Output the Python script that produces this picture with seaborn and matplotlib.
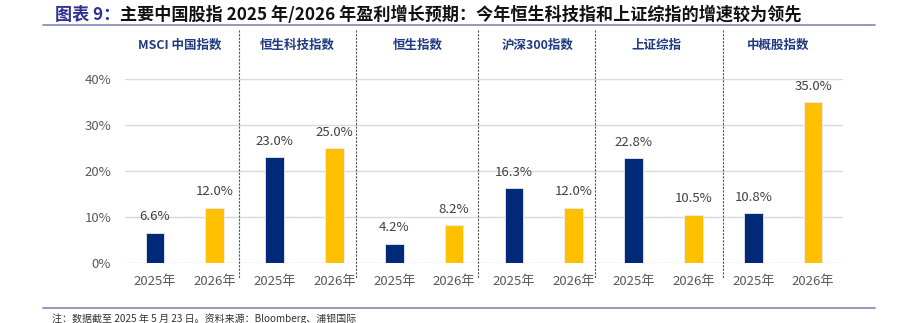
import matplotlib
matplotlib.use("Agg")
import matplotlib.pyplot as plt
from matplotlib.lines import Line2D
import seaborn as sns
import pandas as pd

# ---- data ----
groups = ["MSCI 中国指数", "恒生科技指数", "恒生指数", "沪深300指数", "上证综指", "中概股指数"]
years = ["2025年", "2026年"]
growth_2025 = [6.6, 23.0, 4.2, 16.3, 22.8, 10.8]
growth_2026 = [12.0, 25.0, 8.2, 12.0, 10.5, 35.0]
yticks = [0, 10, 20, 30, 40]
title_prefix = "图表 9："
title_text = "主要中国股指 2025 年/2026 年盈利增长预期：今年恒生科技指和上证综指的增速较为领先"
footnote = "注：数据截至 2025 年 5 月 23 日。资料来源：Bloomberg、浦银国际"

navy = "#002A78"
gold = "#FFC000"

rows = []
for g, a, b in zip(groups, growth_2025, growth_2026):
    rows.append({"key": g + "|" + years[0], "value": a, "year": years[0]})
    rows.append({"key": g + "|" + years[1], "value": b, "year": years[1]})
df = pd.DataFrame(rows)
order = list(df["key"])

sns.set_theme(style="white")
plt.rcParams["font.family"] = ["Noto Sans CJK SC", "DejaVu Sans"]

W, H = 902, 323
fig = plt.figure(figsize=(W / 100, H / 100), dpi=100)
ax = fig.add_axes([125 / W, 1 - 263 / H, 718 / W, 184 / H])

sns.barplot(data=df, x="key", y="value", hue="year", order=order,
            palette={years[0]: navy, years[1]: gold}, dodge=False,
            width=0.31, legend=False, ax=ax, saturation=1,
            edgecolor="#E8ECF4", linewidth=0.6)

ax.set_ylim(0, 40)
ax.set_xlim(-0.5, len(order) - 0.5)
ax.set_yticks(yticks)
ax.set_yticklabels([f"{t}%" for t in yticks], fontsize=9.5, color="#595959")
ax.set_xticks(range(len(order)))
ax.set_xticklabels([k.split("|")[1] for k in order], fontsize=9.5, color="#595959")
ax.tick_params(axis="y", length=0, pad=10)
ax.tick_params(axis="x", length=0, pad=9)
ax.set_xlabel("")
ax.set_ylabel("")
for s in ax.spines.values():
    s.set_visible(False)
ax.grid(axis="y", color="#D9D9D9", linewidth=1)
ax.set_axisbelow(True)

for i, v in enumerate(df["value"]):
    ax.annotate(f"{v:.1f}%", (i, v), xytext=(0, 11.5), textcoords="offset points",
                ha="center", va="center", fontsize=9.5, color="#404040")

# group headers
header_x = [180, 297, 418, 538, 656, 778]
for gx, g in zip(header_x, groups):
    fig.text(gx / W, 1 - 45 / H, g, ha="center", va="center", fontsize=9,
             fontweight="bold", color="#1F3A80")

# dotted separators
for sx in [239, 356, 478, 595, 723]:
    fig.add_artist(Line2D([sx / W, sx / W], [1 - 30 / H, 1 - 278 / H],
                          transform=fig.transFigure, color="#555555",
                          linewidth=0.8, linestyle=(0, (2, 1.2))))

# title
t1 = fig.text(55 / W, 1 - 15 / H, title_prefix, ha="left", va="center",
              fontsize=12.3, fontweight="bold", color="#2E3192")
fig.canvas.draw()
bb = t1.get_window_extent()
fig.text(bb.x1 / W, 1 - 15 / H, title_text, ha="left", va="center",
         fontsize=12.3, fontweight="bold", color="#111111")

# rules
fig.add_artist(Line2D([43 / W, 875 / W], [1 - 25 / H, 1 - 25 / H],
                      transform=fig.transFigure, color="#7F86B8", linewidth=1.2))
fig.add_artist(Line2D([43 / W, 875 / W], [1 - 308 / H, 1 - 308 / H],
                      transform=fig.transFigure, color="#7F86B8", linewidth=1.2))

fig.text(52 / W, 1 - 319 / H, footnote, ha="left", va="center", fontsize=7.2,
         color="#333333")

fig.savefig("out.png", dpi=100)
